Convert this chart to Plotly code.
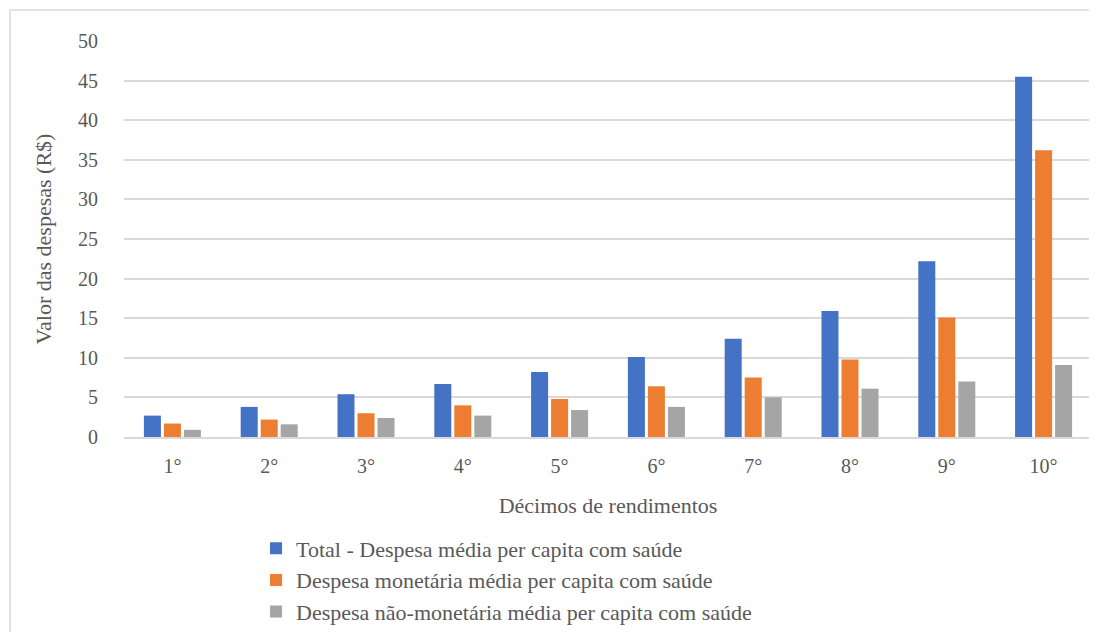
import plotly.graph_objects as go

categories = ["1°", "2°", "3°", "4°", "5°", "6°", "7°", "8°", "9°", "10°"]
total = [2.7, 3.8, 5.4, 6.7, 8.2, 10.1, 12.4, 15.9, 22.2, 45.5]
monetaria = [1.7, 2.2, 3.0, 4.0, 4.8, 6.4, 7.5, 9.8, 15.1, 36.2]
nao_monetaria = [0.9, 1.6, 2.4, 2.7, 3.4, 3.8, 5.0, 6.1, 7.0, 9.1]
series_names = [
    "Total - Despesa média per capita com saúde",
    "Despesa monetária média per capita com saúde",
    "Despesa não-monetária média per capita com saúde",
]
colors = ["#4472C4", "#ED7D31", "#A5A5A5"]
y_ticks = [0, 5, 10, 15, 20, 25, 30, 35, 40, 45, 50]

FONT = "Liberation Serif"
TXT = "#595959"

fig = go.Figure()
for name, vals, col in zip(series_names, [total, monetaria, nao_monetaria], colors):
    fig.add_trace(go.Bar(x=categories, y=vals, name=name,
                         marker=dict(color=col, line=dict(width=0))))

fig.update_layout(
    width=1089, height=624,
    paper_bgcolor="white", plot_bgcolor="white",
    margin=dict(l=116, r=5, t=33, b=195, autoexpand=False),
    barmode="group", bargap=0.38, bargroupgap=0.15,
    font=dict(family=FONT, color=TXT, size=20),
    showlegend=True,
    legend=dict(
        orientation="v",
        x=0.1364, xanchor="left", y=-0.2285, yanchor="top",
        font=dict(family=FONT, size=22, color=TXT),
        itemwidth=30, tracegroupgap=0, bgcolor="rgba(0,0,0,0)",
        traceorder="normal",
    ),
)
fig.update_xaxes(
    showgrid=False, showline=True, linecolor="#D9D9D9", linewidth=1.5,
    ticks="outside", ticklen=10, tickcolor="rgba(0,0,0,0)", automargin=False,
    tickfont=dict(family=FONT, size=20, color=TXT),
    title=dict(text="Décimos de rendimentos", font=dict(family=FONT, size=22, color=TXT), standoff=22),
)
fig.update_yaxes(
    range=[0, 50], tickvals=y_ticks, showgrid=True, gridcolor="#D9D9D9", gridwidth=1.5,
    zeroline=False, showline=False, automargin=False,
    ticks="outside", ticklen=21, tickcolor="rgba(0,0,0,0)",
    tickfont=dict(family=FONT, size=20, color=TXT),
    title=dict(text="Valor das despesas (R$)", font=dict(family=FONT, size=22, color=TXT), standoff=20),
)
# outer chart frame
fig.add_shape(type="rect", xref="paper", yref="paper",
              x0=-114/968, x1=1.2, y0=-0.8, y1=1 + 31/396,
              line=dict(color="#D9D9D9", width=1.5), fillcolor="rgba(0,0,0,0)", layer="below")

fig.write_html("out.html")
